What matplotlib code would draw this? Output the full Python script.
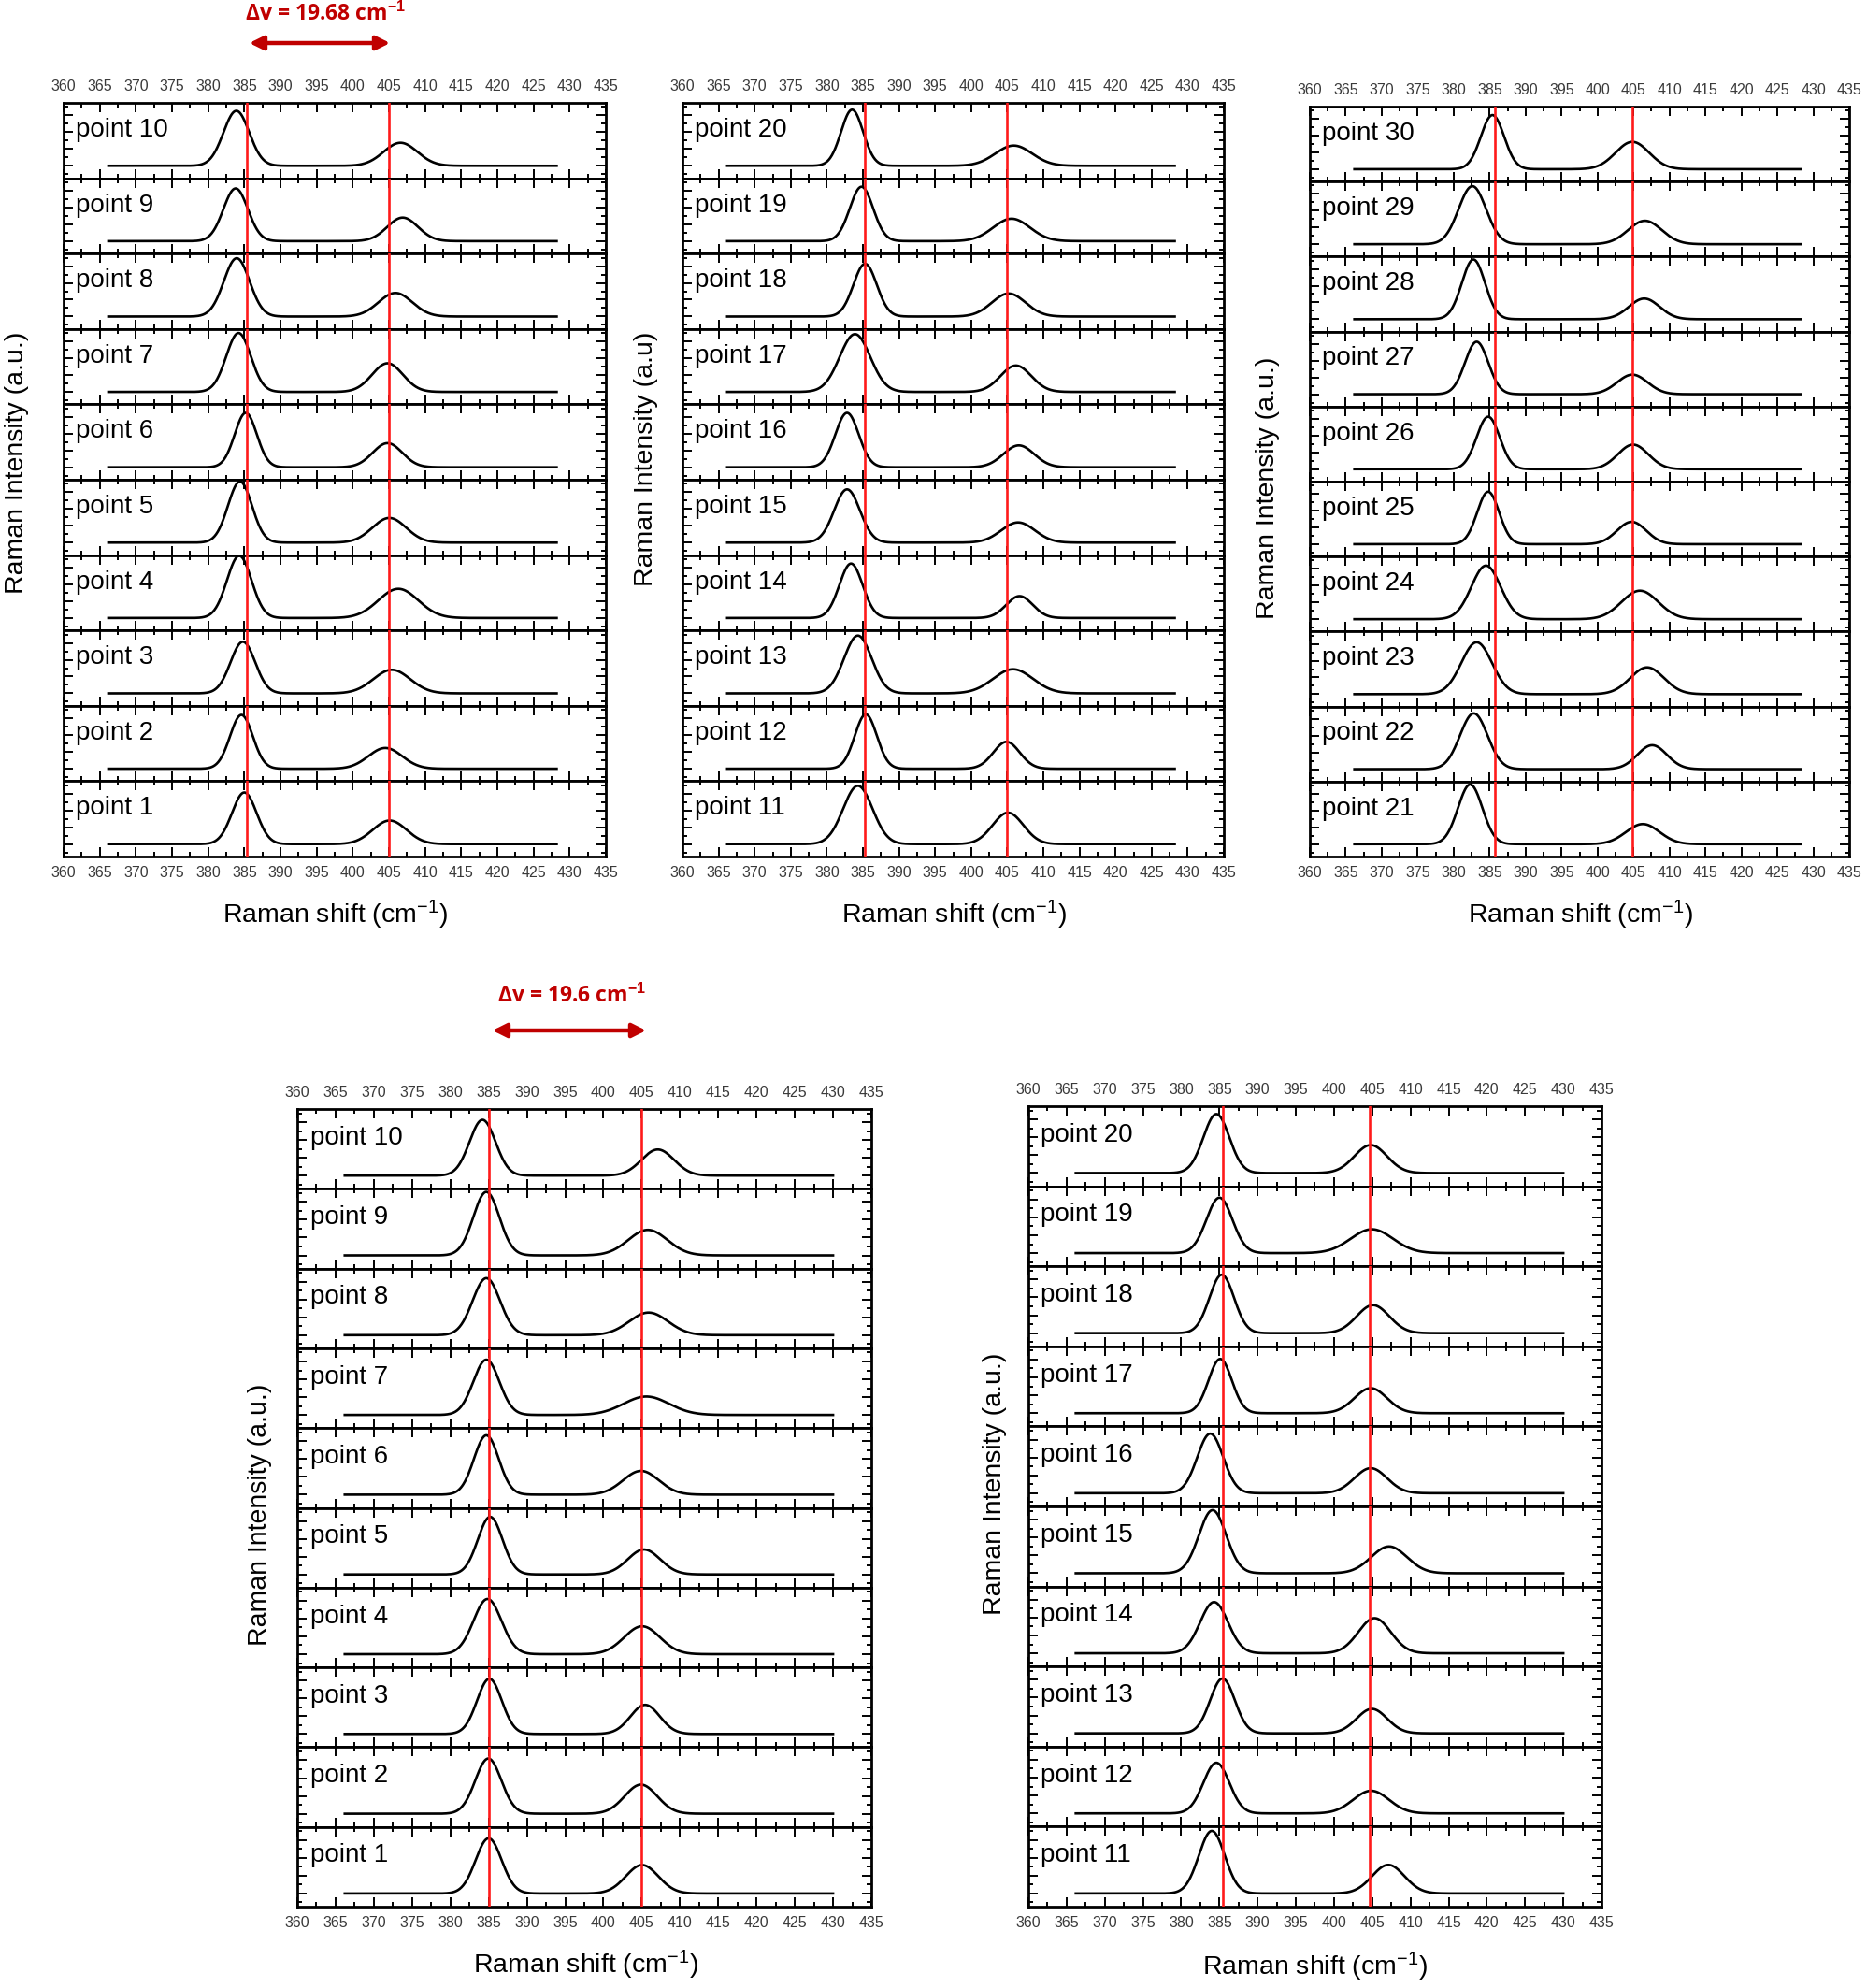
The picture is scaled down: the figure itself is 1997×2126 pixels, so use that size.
import numpy as np
import matplotlib
matplotlib.use("Agg")
import matplotlib.pyplot as plt
from matplotlib.ticker import MultipleLocator
from matplotlib.patches import FancyArrowPatch

plt.rcParams['font.family'] = ['Liberation Sans', 'DejaVu Sans']
plt.rcParams['mathtext.fontset'] = 'custom'
plt.rcParams['mathtext.rm'] = 'Liberation Sans'
plt.rcParams['mathtext.it'] = 'Liberation Sans:italic'
plt.rcParams['mathtext.bf'] = 'Liberation Sans:bold'

# ---------------- data (rows listed top -> bottom) ----------------
x_ticks = list(range(360, 440, 5))

# Panel A: points 10..1
A_points = [10, 9, 8, 7, 6, 5, 4, 3, 2, 1]
A_p1_pos = [383.9, 383.8, 383.95, 384.2, 385.2, 384.4, 384.3, 384.8, 384.6, 385.0]
A_p1_amp = [0.98, 0.94, 1.04, 1.05, 0.97, 1.09, 1.11, 0.92, 0.96, 0.92]
A_p1_fwhm = [4.2, 4.0, 4.2, 4.0, 3.6, 3.9, 4.0, 4.0, 3.7, 4.0]
A_p2_pos = [406.6, 406.9, 405.9, 404.8, 404.8, 405.05, 406.3, 405.4, 404.5, 405.1]
A_p2_amp = [0.41, 0.42, 0.42, 0.51, 0.43, 0.44, 0.52, 0.42, 0.37, 0.42]
A_p2_fwhm = [5.5, 5.0, 5.5, 5.0, 4.8, 5.5, 6.5, 6.0, 5.5, 5.5]
A_ref_lines = [385.3, 404.95]
A_ylabel = "Raman Intensity (a.u.)"

# Panel B: points 20..11
B_points = [20, 19, 18, 17, 16, 15, 14, 13, 12, 11]
B_p1_pos = [383.5, 384.8, 385.3, 383.9, 382.8, 382.8, 383.35, 384.3, 385.4, 384.3]
B_p1_amp = [1.00, 0.97, 0.94, 1.03, 0.97, 0.95, 0.97, 1.03, 0.97, 1.04]
B_p1_fwhm = [3.6, 3.8, 3.8, 5.0, 3.8, 4.2, 3.8, 4.5, 3.6, 4.8]
B_p2_pos = [405.9, 405.6, 405.2, 406.2, 406.6, 406.5, 406.7, 405.8, 404.9, 405.1]
B_p2_amp = [0.36, 0.40, 0.41, 0.47, 0.39, 0.36, 0.39, 0.43, 0.48, 0.56]
B_p2_fwhm = [6.0, 6.0, 5.5, 5.0, 5.0, 5.5, 4.3, 6.5, 4.3, 5.0]
B_ref_lines = [385.3, 404.95]
B_ylabel = "Raman Intensity (a.u)"

# Panel C: points 30..21
C_points = [30, 29, 28, 27, 26, 25, 24, 23, 22, 21]
C_p1_pos = [385.4, 382.6, 382.75, 383.2, 384.8, 384.8, 384.5, 383.2, 382.8, 382.3]
C_p1_amp = [0.97, 1.04, 1.07, 0.94, 0.94, 0.94, 0.96, 0.93, 1.00, 1.07]
C_p1_fwhm = [3.8, 4.5, 3.8, 3.8, 3.8, 3.6, 4.8, 5.0, 4.5, 4.0]
C_p2_pos = [404.85, 406.6, 406.5, 404.85, 404.95, 404.75, 405.9, 406.9, 407.6, 406.3]
C_p2_amp = [0.49, 0.42, 0.37, 0.35, 0.44, 0.40, 0.51, 0.48, 0.43, 0.36]
C_p2_fwhm = [5.5, 5.5, 5.0, 5.0, 5.0, 4.8, 6.0, 5.5, 4.8, 5.5]
C_ref_lines = [385.7, 404.85]
C_ylabel = "Raman Intensity (a.u.)"

# Panel D (bottom-left): points 10..1
D_points = [10, 9, 8, 7, 6, 5, 4, 3, 2, 1]
D_p1_pos = [384.2, 384.7, 384.7, 384.7, 384.7, 385.2, 384.85, 385.1, 384.96, 385.0]
D_p1_amp = [0.94, 1.07, 0.96, 0.93, 1.00, 0.97, 0.93, 0.93, 0.93, 0.93]
D_p1_fwhm = [4.0, 4.0, 4.2, 4.0, 3.8, 3.8, 4.3, 3.8, 4.0, 4.0]
D_p2_pos = [407.1, 405.8, 405.9, 405.6, 404.9, 405.3, 405.05, 405.45, 404.9, 405.05]
D_p2_amp = [0.44, 0.43, 0.38, 0.31, 0.40, 0.42, 0.47, 0.49, 0.49, 0.48]
D_p2_fwhm = [5.0, 6.0, 6.0, 7.0, 5.5, 5.0, 5.5, 4.5, 5.0, 5.0]
D_ref_lines = [385.1, 404.9]
D_ylabel = "Raman Intensity (a.u.)"

# Panel E (bottom-right): points 20..11
E_points = [20, 19, 18, 17, 16, 15, 14, 13, 12, 11]
E_p1_pos = [384.6, 385.0, 385.3, 385.1, 383.8, 384.1, 384.3, 385.4, 384.6, 384.0]
E_p1_amp = [0.99, 0.93, 0.98, 0.91, 1.00, 1.06, 0.86, 0.92, 0.85, 1.05]
E_p1_fwhm = [4.0, 4.0, 3.8, 3.6, 4.0, 4.2, 4.3, 3.8, 4.0, 4.0]
E_p2_pos = [404.8, 404.95, 405.1, 404.8, 404.8, 407.2, 405.3, 404.95, 404.85, 407.1]
E_p2_amp = [0.47, 0.40, 0.47, 0.42, 0.42, 0.45, 0.59, 0.41, 0.38, 0.48]
E_p2_fwhm = [5.0, 6.5, 5.0, 5.0, 5.0, 5.5, 5.0, 4.7, 5.5, 5.0]
E_ref_lines = [385.4, 404.7]
E_ylabel = "Raman Intensity (a.u.)"

delta_top = "Δv = 19.68 cm$^{\\mathbf{-1}}$"
delta_bottom = "Δv = 19.6 cm$^{\\mathbf{-1}}$"
xlabel = "Raman shift (cm$^{-1}$)"

# ---------------- figure ----------------
W, H = 1997, 2126
fig = plt.figure(figsize=(W / 100, H / 100), dpi=100)


def fx(px):
    return px / W


def fy(py):
    return 1 - py / H


def gauss(x, c, a, w):
    return a * np.exp(-4 * np.log(2) * (x - c) ** 2 / w ** 2)


panels = [
    dict(pts=A_points, c1=A_p1_pos, a1=A_p1_amp, w1=A_p1_fwhm, c2=A_p2_pos, a2=A_p2_amp, w2=A_p2_fwhm,
         ref=A_ref_lines, ylab=A_ylabel, box=(68, 648, 110, 916), xr=(366.2, 428.2),
         ylpos=(18, 495), xlpos=(358, 978)),
    dict(pts=B_points, c1=B_p1_pos, a1=B_p1_amp, w1=B_p1_fwhm, c2=B_p2_pos, a2=B_p2_amp, w2=B_p2_fwhm,
         ref=B_ref_lines, ylab=B_ylabel, box=(730, 1309, 110, 916), xr=(366.2, 428.2),
         ylpos=(691, 491), xlpos=(1020, 978)),
    dict(pts=C_points, c1=C_p1_pos, a1=C_p1_amp, w1=C_p1_fwhm, c2=C_p2_pos, a2=C_p2_amp, w2=C_p2_fwhm,
         ref=C_ref_lines, ylab=C_ylabel, box=(1401, 1978, 114, 916), xr=(366.2, 428.2),
         ylpos=(1356, 522), xlpos=(1690, 978)),
    dict(pts=D_points, c1=D_p1_pos, a1=D_p1_amp, w1=D_p1_fwhm, c2=D_p2_pos, a2=D_p2_amp, w2=D_p2_fwhm,
         ref=D_ref_lines, ylab=D_ylabel, box=(318, 932, 1186, 2039), xr=(366.2, 430.0),
         ylpos=(278, 1620), xlpos=(626, 2101)),
    dict(pts=E_points, c1=E_p1_pos, a1=E_p1_amp, w1=E_p1_fwhm, c2=E_p2_pos, a2=E_p2_amp, w2=E_p2_fwhm,
         ref=E_ref_lines, ylab=E_ylabel, box=(1100, 1713, 1183, 2039), xr=(366.2, 430.0),
         ylpos=(1064, 1587), xlpos=(1406, 2103)),
]

YLO, YHI = -0.222, 1.122

for p in panels:
    l, r, t, b = p["box"]
    gs = fig.add_gridspec(10, 1, left=fx(l), right=fx(r), top=fy(t), bottom=fy(b), hspace=0)
    n = len(p["pts"])
    for i in range(n):
        ax = fig.add_subplot(gs[i, 0])
        xs = np.linspace(p["xr"][0], p["xr"][1], 800)
        ys = gauss(xs, p["c1"][i], p["a1"][i], p["w1"][i]) + gauss(xs, p["c2"][i], p["a2"][i], p["w2"][i])
        ax.plot(xs, ys, color="black", lw=1.9, zorder=3)
        for rl in p["ref"]:
            ax.axvline(rl, color="#ff1a1a", lw=1.9, zorder=4)
        ax.set_xlim(360, 435)
        ax.set_ylim(YLO, YHI)
        ax.xaxis.set_major_locator(MultipleLocator(5))
        ax.xaxis.set_minor_locator(MultipleLocator(2.5))
        ax.yaxis.set_major_locator(MultipleLocator(0.3))
        ax.yaxis.set_minor_locator(MultipleLocator(0.15))
        ax.tick_params(axis="both", which="both", direction="in", top=True, bottom=True,
                       left=True, right=True, labelleft=False, labelright=False,
                       labelbottom=False, labeltop=False, width=1.4, colors="black")
        ax.tick_params(axis="both", which="major", length=7)
        ax.tick_params(axis="both", which="minor", length=3.6)
        if i == 0:
            ax.tick_params(axis="x", labeltop=True, pad=7, labelsize=11.5, labelcolor="#3a3a3a")
            ax.set_xticks(x_ticks)
        if i == n - 1:
            ax.tick_params(axis="x", labelbottom=True, pad=7, labelsize=11.5, labelcolor="#3a3a3a")
            ax.set_xticks(x_ticks)
        for s in ax.spines.values():
            s.set_linewidth(2.0)
        ax.text(0.022, 0.64, f"point {p['pts'][i]}", transform=ax.transAxes,
                ha="left", va="center", fontsize=20, color="black", zorder=5)
    fig.text(fx(p["ylpos"][0]), fy(p["ylpos"][1]), p["ylab"], rotation=90,
             ha="center", va="center", fontsize=20.5)
    fig.text(fx(p["xlpos"][0]), fy(p["xlpos"][1]), xlabel, ha="center", va="center", fontsize=20.5)

# delta annotations
red = "#c00000"
fig.text(fx(348), fy(15), delta_top, ha="center", va="center", fontsize=16.5,
         fontweight="bold", color=red, family=["Open Sans", "DejaVu Sans"])
fig.add_artist(FancyArrowPatch((fx(264), fy(46)), (fx(420), fy(46)), transform=fig.transFigure,
                               arrowstyle="<|-|>", mutation_scale=22, lw=3.2, color=red))
fig.text(fx(611), fy(1065), delta_bottom, ha="center", va="center", fontsize=16.5,
         fontweight="bold", color=red, family=["Open Sans", "DejaVu Sans"])
fig.add_artist(FancyArrowPatch((fx(524), fy(1102)), (fx(694), fy(1102)), transform=fig.transFigure,
                               arrowstyle="<|-|>", mutation_scale=22, lw=3.2, color=red))

fig.savefig("out.png", dpi=100, facecolor="white")
